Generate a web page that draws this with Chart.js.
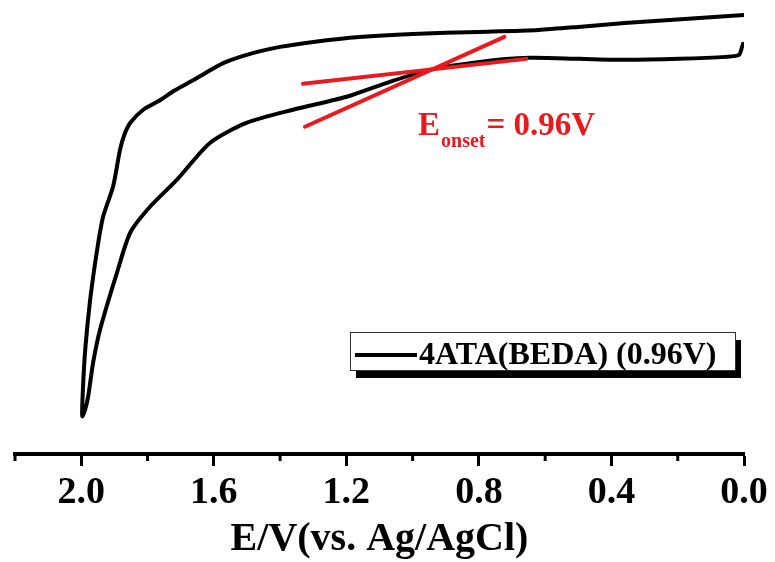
<!DOCTYPE html>
<html>
<head>
<meta charset="utf-8">
<script src="https://cdn.jsdelivr.net/npm/chart.js@4/dist/chart.umd.min.js"></script>
<style>
  html, body { margin: 0; padding: 0; background: #fff; }
  #wrap { width: 775px; height: 562px; }
</style>
</head>
<body>
<div id="wrap"><canvas id="cv" width="775" height="562"></canvas></div>
<script>
// scan going out from 0.0 V to 2.0 V (upper trace)
const forwardE = [0.000, 0.180, 0.360, 0.500, 0.620, 0.800, 1.000, 1.160, 1.300, 1.400, 1.480, 1.570, 1.660, 1.720, 1.760, 1.813, 1.852, 1.870, 1.883, 1.904, 1.934, 1.952, 1.973, 1.988, 1.995, 1.997];
const forwardI = [44.0, 43.6, 43.2, 42.8, 42.5, 42.3, 42.1, 41.8, 41.3, 40.8, 40.2, 39.2, 37.5, 36.4, 35.5, 34.5, 33.2, 32.0, 30.5, 26.8, 23.8, 20.5, 15.5, 10.5, 6.5, 3.8];

// scan coming back from 2.0 V to 0.0 V (lower trace)
const reverseE = [1.988, 1.979, 1.964, 1.943, 1.892, 1.852, 1.792, 1.711, 1.611, 1.500, 1.361, 1.199, 1.069, 0.949, 0.798, 0.648, 0.497, 0.355, 0.196, 0.054, 0.015, 0.006, 0.003];
const reverseI = [4.5, 5.8, 9.2, 12.5, 18.2, 22.2, 24.8, 27.5, 31.2, 33.2, 34.5, 35.8, 37.3, 38.5, 39.3, 39.7, 39.6, 39.5, 39.6, 39.8, 40.0, 40.8, 41.1];

// tangent lines used for the onset potential
const baseLineE = [1.331, 0.657];
const baseLineI = [37.1, 39.6];
const riseLineE = [1.325, 0.723];
const riseLineI = [32.8, 41.8];

const majorTicks = [0.0, 0.4, 0.8, 1.2, 1.6, 2.0];
const seriesLabel = "4ATA(BEDA) (0.96V)";
const onsetValue = "0.96V";

const RED = "#e81a1e";
const SERIF = "'Liberation Serif', 'Times New Roman', serif";

function toPoints(xs, ys) {
  return xs.map((x, i) => ({ x: x, y: ys[i] }));
}

function isMajor(v) {
  return majorTicks.some(t => Math.abs(t - v) < 1e-6);
}

// short minor ticks, legend box and the onset label
const extrasPlugin = {
  id: "extras",
  afterDraw(chart) {
    const ctx = chart.ctx;
    const xs = chart.scales.x;
    const area = chart.chartArea;

    ctx.save();
    ctx.strokeStyle = "#000";
    ctx.lineWidth = 3;
    xs.ticks.forEach(t => {
      if (isMajor(t.value)) return;
      const px = xs.getPixelForValue(t.value);
      ctx.beginPath();
      ctx.moveTo(px, area.bottom);
      ctx.lineTo(px, area.bottom + 7);
      ctx.stroke();
    });

    // legend with drop shadow
    const bx = 350, by = 332, bw = 385, bh = 38;
    ctx.fillStyle = "#000";
    ctx.fillRect(bx + 6, by + 8, bw, bh);
    ctx.fillStyle = "#fff";
    ctx.fillRect(bx, by, bw, bh);
    ctx.lineWidth = 1;
    ctx.strokeStyle = "#333";
    ctx.strokeRect(bx + 0.5, by + 0.5, bw, bh);
    ctx.lineWidth = 4;
    ctx.strokeStyle = "#000";
    ctx.beginPath();
    ctx.moveTo(355, 355);
    ctx.lineTo(417, 355);
    ctx.stroke();
    ctx.fillStyle = "#000";
    ctx.font = "bold 32px " + SERIF;
    ctx.textBaseline = "alphabetic";
    ctx.fillText(seriesLabel, 419, 364);

    // E_onset = 0.96V
    ctx.fillStyle = RED;
    let x = 418;
    ctx.font = "bold 33px " + SERIF;
    ctx.fillText("E", x, 135);
    x += ctx.measureText("E").width + 1;
    ctx.font = "bold 20px " + SERIF;
    ctx.fillText("onset", x, 147);
    x += ctx.measureText("onset").width + 1;
    ctx.font = "bold 33px " + SERIF;
    ctx.fillText("= " + onsetValue, x, 135);
    ctx.restore();
  }
};

const lineStyle = {
  pointRadius: 0,
  borderWidth: 4,
  borderCapStyle: "round",
  borderJoinStyle: "round",
  fill: false
};

new Chart(document.getElementById("cv"), {
  type: "line",
  data: {
    datasets: [
      Object.assign({
        label: seriesLabel,
        data: toPoints(forwardE.concat(reverseE), forwardI.concat(reverseI)),
        borderColor: "#000",
        tension: 0.25,
        order: 1
      }, lineStyle),
      Object.assign({
        label: "baseline",
        data: toPoints(baseLineE, baseLineI),
        borderColor: RED,
        order: 0
      }, lineStyle),
      Object.assign({
        label: "rise",
        data: toPoints(riseLineE, riseLineI),
        borderColor: RED,
        order: 0
      }, lineStyle)
    ]
  },
  options: {
    responsive: false,
    animation: false,
    events: [],
    layout: { padding: { left: 15, right: 31, top: 0, bottom: 0 } },
    plugins: {
      legend: { display: false },
      tooltip: { enabled: false }
    },
    scales: {
      x: {
        type: "linear",
        reverse: true,
        min: 0,
        max: 2.2,
        // pin the axis band so the plot area ends at the axis line
        afterFit: s => {
          s.height = 108;
          s.paddingLeft = 0;
          s.paddingRight = 0;
        },
        border: { display: true, color: "#000", width: 4 },
        grid: {
          drawOnChartArea: false,
          drawTicks: true,
          tickLength: 12,
          tickWidth: 3,
          tickColor: c => (c.tick && isMajor(c.tick.value)) ? "#000" : "rgba(0,0,0,0)"
        },
        ticks: {
          stepSize: 0.2,
          autoSkip: false,
          maxRotation: 0,
          padding: 8,
          color: "#000",
          font: { family: SERIF, size: 38, weight: "bold", lineHeight: 1 },
          callback: v => isMajor(v) ? v.toFixed(1) : ""
        },
        title: {
          display: true,
          text: "E/V(vs. Ag/AgCl)",
          color: "#000",
          font: { family: SERIF, size: 40, weight: "bold", lineHeight: 1 },
          padding: { top: 0, bottom: 2 }
        }
      },
      y: {
        display: false,
        min: 0,
        max: 45.5
      }
    }
  },
  plugins: [extrasPlugin]
});
</script>
</body>
</html>
